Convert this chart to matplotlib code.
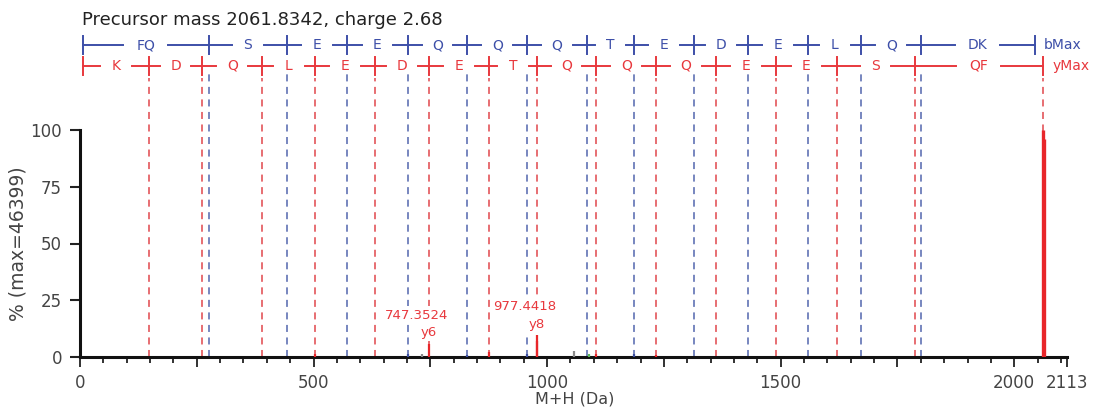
import numpy as np
import matplotlib
matplotlib.use("Agg")
import matplotlib.pyplot as plt

# ladder data (M+H, Da)
b_ions = [276.13, 443.13, 572.18, 701.22, 829.28, 957.33, 1085.39, 1186.44,
          1315.48, 1430.51, 1559.55, 1672.64, 1800.70]
b_labels = ["FQ", "S", "E", "E", "Q", "Q", "Q", "T", "E", "D", "E", "L", "Q", "DK"]
b_start = 6.0
b_max = 2043.82

y_ions = [147.11, 262.14, 390.20, 503.28, 632.33, 747.35, 876.39, 977.44,
          1105.50, 1233.56, 1361.62, 1490.66, 1619.70, 1786.70]
y_labels = ["K", "D", "Q", "L", "E", "D", "E", "T", "Q", "Q", "Q", "E", "E", "S", "QF"]
y_start = 6.0
y_max = 2061.83

# spectrum peaks
peak_mz = [503.3, 701.2, 732.5, 747.35, 829.3, 876.4, 957.3, 977.44, 978.44,
           1058.5, 1089.5, 1105.5, 1186.4, 1233.6, 2061.83, 2062.83]
peak_int = [1.5, 1.5, 1.5, 5.7, 1.0, 2.0, 1.5, 9.5, 7.0,
            2.5, 1.2, 1.5, 1.5, 1.0, 100, 96]
peak_kind = ["y", "b", "o", "y", "b", "y", "b", "y", "y",
             "o", "g", "y", "b", "y", "y", "y"]

labelled_mz = [747.3524, 977.4418]
labelled_int = [5.7, 9.5]
labelled_ion = ["y6", "y8"]

BLUE = "#3d4fa8"
RED = "#e8383d"
kind_col = {"y": "#e8262a", "b": "#3c4fa0", "o": "#8a8a8a", "g": "#5cb85c"}

W, H = 1093, 408
PX_Y = 2.27          # pixels per % unit
PX_X = 0.467         # pixels per Da

fig = plt.figure(figsize=(W / 100, H / 100), dpi=100)
ax = fig.add_axes([80 / W, 51 / H, 987 / W, 357 / H])
ax.set_xlim(0, 2113)
ax.set_ylim(0, 357 / PX_Y)

for s in ["top", "right"]:
    ax.spines[s].set_visible(False)
for s in ["left", "bottom"]:
    ax.spines[s].set_linewidth(2.2)
    ax.spines[s].set_color("#111111")
ax.spines["left"].set_bounds(0, 100)
ax.spines["bottom"].set_bounds(0, 2113)

ax.set_yticks([0, 25, 50, 75, 100])
ax.set_xticks([0, 250, 500, 750, 1000, 1250, 1500, 1750, 2000, 2113])
ax.set_xticklabels(["0", "", "500", "", "1000", "", "1500", "", "2000", "2113"])
ax.set_xticks(np.arange(50, 2113, 50), minor=True)
ax.tick_params(axis="y", length=7, width=1.5, pad=6, labelsize=12,
               labelcolor="#444444", color="#222222")
ax.tick_params(axis="x", which="major", length=7, width=1.3, pad=5,
               labelsize=12, labelcolor="#444444", color="#222222")
ax.tick_params(axis="x", which="minor", length=4, width=1.3, color="#222222")

fig.text(575 / W, 2 / H, "M+H (Da)", fontsize=11.5, color="#444444",
         ha="center", va="bottom")
ax.set_ylabel("% (max=46399)", fontsize=13.5, color="#444444")
ax.yaxis.set_label_coords(-52 / 987, 50 / (357 / PX_Y))

# dashed ion lines
dash = (0, (4.6, 3.6))
for x in b_ions:
    ax.plot([x, x], [0, 126.9], color="#5266ad", lw=1.1, ls=dash,
            clip_on=False, zorder=1)
for x in y_ions + [y_max]:
    ax.plot([x, x], [0, 123.0], color="#e0474c", lw=1.1, ls=dash,
            clip_on=False, zorder=1)

# peaks
for mz, inten, k in zip(peak_mz, peak_int, peak_kind):
    ax.plot([mz, mz], [0, inten], color=kind_col[k],
            lw=2.4 if inten > 50 else 1.6,
            solid_capstyle="butt", zorder=3)

for mz, inten, ion in zip(labelled_mz, labelled_int, labelled_ion):
    box = dict(facecolor="white", edgecolor="none", pad=1.5)
    ax.text(mz - 26, inten + 12.8, f"{mz:.4f}", color=RED, fontsize=9.5,
            ha="center", va="center", bbox=box, zorder=4)
    ax.text(mz, inten + 5.0, ion, color=RED, fontsize=9.5,
            ha="center", va="center", bbox=box, zorder=4)


def ladder(ticks, labels, yrow, color, end_text):
    tick_h = 9 / PX_Y
    for x in ticks:
        ax.plot([x, x], [yrow - tick_h, yrow + tick_h], color=color, lw=1.4,
                clip_on=False, zorder=2)
    for x0, x1, lab in zip(ticks[:-1], ticks[1:], labels):
        mid = (x0 + x1) / 2
        gap = 20 + 14 * len(lab)
        ax.plot([x0, mid - gap], [yrow, yrow], color=color, lw=1.4,
                clip_on=False, zorder=2)
        ax.plot([mid + gap, x1], [yrow, yrow], color=color, lw=1.4,
                clip_on=False, zorder=2)
        ax.text(mid, yrow, lab, color=color, fontsize=10, ha="center",
                va="center", clip_on=False)
    ax.text(ticks[-1] + 9 / PX_X, yrow, end_text, color=color, fontsize=10,
            ha="left", va="center", clip_on=False)


ladder([b_start] + b_ions + [b_max], b_labels, 137.4, BLUE, "bMax")
ladder([y_start] + y_ions + [y_max], y_labels, 128.2, RED, "yMax")

fig.text(82 / W, 1 - 25 / H, "Precursor mass 2061.8342, charge 2.68",
         fontsize=13, color="#222222", ha="left", va="baseline")

fig.savefig("out.png", dpi=100, facecolor="white")
